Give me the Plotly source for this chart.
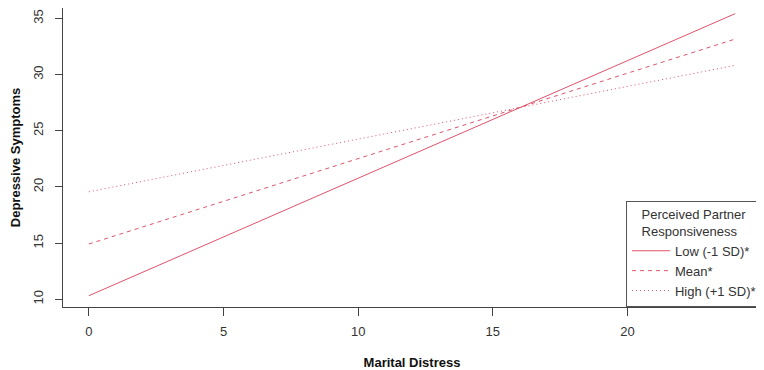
import plotly.graph_objects as go

# Data
marital_distress = [0, 24]
low_sd = [10.32, 35.42]
mean_resp = [14.92, 33.16]
high_sd = [19.57, 30.82]
series_names = ["Low (-1 SD)*", "Mean*", "High (+1 SD)*"]
x_ticks = [0, 5, 10, 15, 20]
y_ticks = [10, 15, 20, 25, 30, 35]

COLOR = "#DF536B"
FONT = "Liberation Sans, Arial, sans-serif"
TXT = "#333333"
FS = 13

fig = go.Figure()
for name, ys, dash in zip(series_names, [low_sd, mean_resp, high_sd],
                          ["solid", "4px,4px", "1px,3px"]):
    fig.add_trace(go.Scatter(x=marital_distress, y=ys, mode="lines", name=name,
                             line=dict(color=COLOR, width=1, dash=dash)))

# page body has an 8px margin, so the figure is sized to the visible area
fig.update_layout(
    width=756, height=362,
    margin=dict(l=55, r=3, t=0, b=63),
    plot_bgcolor="white", paper_bgcolor="white",
    font=dict(family=FONT, size=FS, color=TXT),
    showlegend=True,
    legend=dict(
        x=1.0014, y=0.0, xanchor="right", yanchor="bottom",
        bgcolor="white", bordercolor="#555555", borderwidth=1,
        font=dict(family=FONT, size=FS, color=TXT),
        title=dict(text="Perceived Partner<br>Responsiveness", side="top center",
                   font=dict(family=FONT, size=FS, color=TXT)),
        tracegroupgap=0, itemwidth=38,
    ),
)
fig.update_xaxes(
    range=[-0.96, 24.96], tickvals=x_ticks, showgrid=False, zeroline=False,
    automargin=False,
    showline=True, linecolor="#444444", linewidth=1,
    ticks="outside", ticklen=8, tickcolor="#444444", ticklabelstandoff=4,
    tickfont=dict(family=FONT, size=FS, color=TXT),
    title=dict(text="<b>Marital Distress</b>", standoff=20,
               font=dict(family=FONT, size=FS, color="#111111")),
)
fig.update_yaxes(
    range=[9.316, 35.925], tickvals=y_ticks, showgrid=False, zeroline=False,
    automargin=False,
    showline=True, linecolor="#444444", linewidth=1,
    ticks="outside", ticklen=7, tickcolor="#444444", tickangle=-90,
    ticklabelstandoff=7,
    tickfont=dict(family=FONT, size=FS, color=TXT),
    title=dict(text="<b>Depressive Symptoms</b>", standoff=34,
               font=dict(family=FONT, size=FS, color="#111111")),
)

fig.write_html("out.html")
